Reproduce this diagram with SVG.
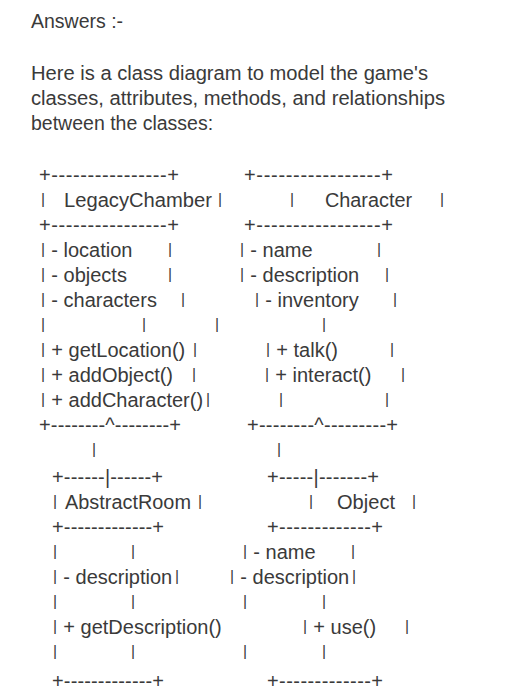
<svg xmlns="http://www.w3.org/2000/svg" width="524" height="700" viewBox="0 0 524 700">
<style>
text{font-family:"Liberation Sans",Arial,Helvetica,sans-serif;font-size:20px;fill:#3a3a3a;}
.h{font-size:19.5px;}
.p{font-size:15.5px;}
</style>
<rect width="524" height="700" fill="#ffffff"/>
<g id="intro">
<text class="h" x="31" y="28">Answers :-</text>
<text class="h" x="31" y="80" textLength="397" lengthAdjust="spacingAndGlyphs">Here is a class diagram to model the game's</text>
<text class="h" x="31" y="105" textLength="414" lengthAdjust="spacingAndGlyphs">classes, attributes, methods, and relationships</text>
<text class="h" x="31" y="130">between the classes:</text>
</g>
<g id="LegacyChamber">
<text x="39" y="182" textLength="140" lengthAdjust="spacing">+----------------+</text>
<text class="p" x="41" y="204">|</text>
<text x="64" y="207" textLength="148" lengthAdjust="spacingAndGlyphs">LegacyChamber</text>
<text class="p" x="218" y="204">|</text>
<text x="39" y="232" textLength="140" lengthAdjust="spacing">+----------------+</text>
<text class="p" x="41" y="254">|</text><text x="51.3" y="257">- location</text><text class="p" x="168" y="254">|</text>
<text class="p" x="41" y="279">|</text><text x="51.3" y="282">- objects</text><text class="p" x="168" y="279">|</text>
<text class="p" x="41" y="304">|</text><text x="51.3" y="307">- characters</text><text class="p" x="181" y="304">|</text>
<text class="p" x="41" y="329">|</text><text class="p" x="142" y="329">|</text><text class="p" x="215" y="329">|</text>
<text class="p" x="41" y="354">|</text><text x="51.3" y="357">+ getLocation()</text><text class="p" x="193" y="354">|</text>
<text class="p" x="41" y="379">|</text><text x="51.3" y="382">+ addObject()</text><text class="p" x="192" y="379">|</text>
<text class="p" x="41" y="404">|</text><text x="51.3" y="407">+ addCharacter()</text><text class="p" x="206" y="404">|</text>
<text x="39" y="432" textLength="142" lengthAdjust="spacing">+--------^--------+</text>
</g>
<g id="Character">
<text x="244" y="182" textLength="149" lengthAdjust="spacing">+-----------------+</text>
<text class="p" x="290" y="204">|</text>
<text x="325" y="207" textLength="87" lengthAdjust="spacingAndGlyphs">Character</text>
<text class="p" x="440" y="204">|</text>
<text x="244" y="232" textLength="149" lengthAdjust="spacing">+-----------------+</text>
<text class="p" x="240" y="254">|</text><text x="250.3" y="257">- name</text><text class="p" x="377" y="254">|</text>
<text class="p" x="240" y="279">|</text><text x="250.3" y="282">- description</text><text class="p" x="385" y="279">|</text>
<text class="p" x="255" y="304">|</text><text x="265.3" y="307">- inventory</text><text class="p" x="393" y="304">|</text>
<text class="p" x="322" y="329">|</text>
<text class="p" x="266" y="354">|</text><text x="276.3" y="357">+ talk()</text><text class="p" x="390" y="354">|</text>
<text class="p" x="265" y="379">|</text><text x="275.3" y="382">+ interact()</text><text class="p" x="401" y="379">|</text>
<text class="p" x="279" y="404">|</text><text class="p" x="385" y="404">|</text>
<text x="247" y="432" textLength="151" lengthAdjust="spacing">+--------^---------+</text>
</g>
<g id="connectors">
<text class="p" x="92" y="454">|</text>
<text class="p" x="277" y="454">|</text>
</g>
<g id="AbstractRoom">
<text x="52" y="484" textLength="111" lengthAdjust="spacing">+------|------+</text>
<text class="p" x="53" y="506">|</text>
<text x="65" y="509" textLength="126" lengthAdjust="spacingAndGlyphs">AbstractRoom</text>
<text class="p" x="198" y="506">|</text>
<text x="52" y="534" textLength="112" lengthAdjust="spacing">+-------------+</text>
<text class="p" x="53" y="556">|</text><text class="p" x="131" y="556">|</text>
<text class="p" x="53" y="581">|</text><text x="63.3" y="584">- description</text><text class="p" x="175" y="581">|</text>
<text class="p" x="53" y="606">|</text><text class="p" x="131" y="606">|</text>
<text class="p" x="53" y="631">|</text><text x="63.3" y="634">+ getDescription()</text>
<text class="p" x="53" y="656">|</text><text class="p" x="131" y="656">|</text>
<text x="52" y="688" textLength="112" lengthAdjust="spacing">+-------------+</text>
</g>
<g id="Object">
<text x="267" y="484" textLength="112" lengthAdjust="spacing">+-----|-------+</text>
<text class="p" x="309" y="506">|</text>
<text x="337" y="509" textLength="58" lengthAdjust="spacingAndGlyphs">Object</text>
<text class="p" x="412" y="506">|</text>
<text x="267" y="534" textLength="116" lengthAdjust="spacing">+-------------+</text>
<text class="p" x="243" y="556">|</text><text x="253.3" y="559">- name</text><text class="p" x="351" y="556">|</text>
<text class="p" x="230" y="581">|</text><text x="240.3" y="584">- description</text><text class="p" x="352" y="581">|</text>
<text class="p" x="243" y="606">|</text><text class="p" x="322" y="606">|</text>
<text class="p" x="303" y="631">|</text><text x="313.3" y="634">+ use()</text><text class="p" x="405" y="631">|</text>
<text class="p" x="243" y="656">|</text><text class="p" x="322" y="656">|</text>
<text x="267" y="688" textLength="116" lengthAdjust="spacing">+-------------+</text>
</g>
</svg>
